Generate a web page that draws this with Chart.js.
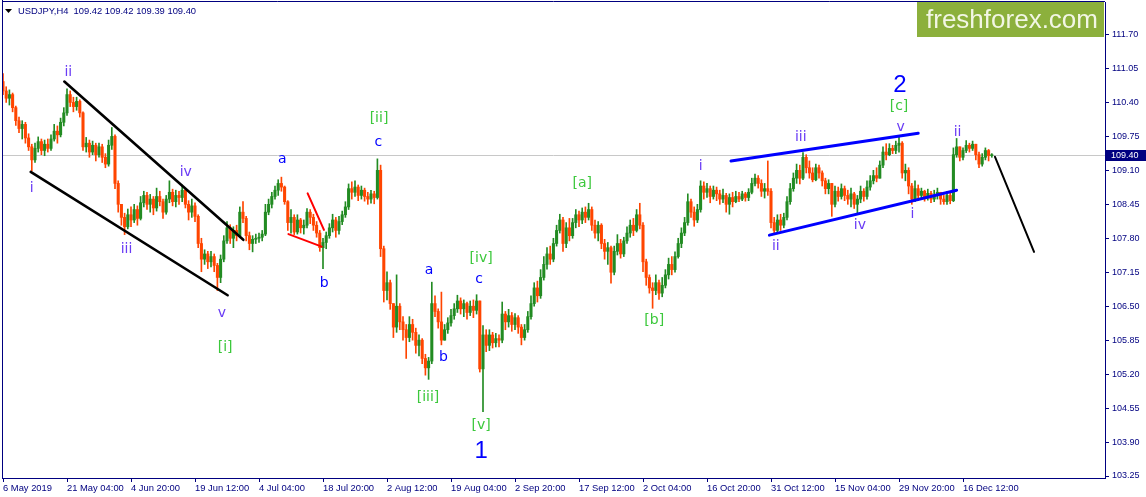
<!DOCTYPE html>
<html><head><meta charset="utf-8">
<script src="https://cdn.jsdelivr.net/npm/chart.js"></script>
<style>html,body{margin:0;padding:0;background:#fff;overflow:hidden}#wrap{position:relative;width:1146px;height:497px}</style>
</head><body><div id="wrap"><canvas id="c" width="1146" height="497"></canvas></div>
<script>
// ---------------- DATA ----------------
const symbolTitle = 'USDJPY,H4';
const lastQuote = ['109.42', '109.42', '109.39', '109.40'];
const currentPrice = 109.40;
const xTickLabels = ['6 May 2019','21 May 04:00','4 Jun 20:00','19 Jun 12:00','4 Jul 04:00','18 Jul 20:00','2 Aug 12:00','19 Aug 04:00','2 Sep 20:00','17 Sep 12:00','2 Oct 04:00','16 Oct 20:00','31 Oct 12:00','15 Nov 04:00','29 Nov 20:00','16 Dec 12:00'];
const xTickEvery = 20;
const yTicks = [111.70,111.05,110.40,109.75,109.10,108.45,107.80,107.15,106.50,105.85,105.20,104.55,103.90,103.25];
const firstOpen = 110.80;
const close = [
110.62,110.48,110.55,110.30,110.05,109.90,109.98,109.72,109.55,109.30,
109.52,109.65,109.48,109.60,109.52,109.70,109.85,109.78,110.02,110.20,
110.55,110.40,110.32,110.42,110.20,109.55,109.62,109.45,109.58,109.40,
109.55,109.35,109.22,109.58,109.75,108.85,108.45,108.20,108.02,108.25,
108.15,108.35,108.18,108.48,108.62,108.45,108.55,108.38,108.60,108.50,
108.30,108.55,108.68,108.50,108.62,108.58,108.72,108.45,108.30,108.42,
108.22,107.70,107.40,107.50,107.35,107.45,107.28,107.05,107.40,107.75,
108.00,107.80,107.95,107.85,108.30,108.18,107.85,107.70,107.78,107.80,
107.82,107.88,108.30,108.45,108.60,108.72,108.85,108.78,108.50,108.10,
108.20,107.92,108.15,108.00,108.05,108.30,108.20,108.05,107.90,107.62,
107.72,107.85,108.00,108.15,107.95,108.12,108.25,108.40,108.75,108.68,
108.78,108.62,108.72,108.60,108.55,108.65,108.58,109.10,107.60,106.80,
106.95,106.55,106.10,106.50,106.20,106.05,105.90,106.15,106.00,105.75,
105.85,105.50,105.32,105.45,106.55,106.40,106.20,105.85,106.05,106.18,
106.32,106.45,106.60,106.45,106.55,106.38,106.50,106.42,106.60,105.30,
105.95,105.75,105.95,105.80,105.88,105.85,106.35,106.20,106.32,106.15,
106.28,106.10,105.90,106.05,106.30,106.55,106.85,106.70,107.05,107.30,
107.50,107.40,107.70,107.95,108.15,107.70,108.00,107.85,108.10,108.25,
108.15,108.30,108.20,108.35,108.05,107.90,108.05,107.70,107.55,107.62,
107.15,107.55,107.70,107.50,107.75,107.90,108.05,107.95,108.25,108.05,
107.35,107.05,106.85,106.80,106.95,106.75,106.90,107.10,107.30,107.20,
107.45,107.70,107.90,108.10,108.50,108.30,108.15,108.35,108.80,108.68,
108.75,108.60,108.72,108.65,108.55,108.62,108.45,108.58,108.50,108.60,
108.55,108.65,108.58,108.68,108.85,108.95,108.85,108.70,108.75,108.70,
108.10,107.95,108.15,108.05,108.20,108.50,108.75,108.95,109.10,108.95,
109.35,109.15,109.05,108.92,109.15,109.05,108.90,108.75,108.85,108.45,
108.70,108.60,108.75,108.62,108.55,108.65,108.45,108.55,108.70,108.60,
108.78,108.90,109.00,108.95,109.20,109.45,109.40,109.52,109.48,109.58,
109.62,109.05,109.10,108.80,108.55,108.75,108.62,108.70,108.58,108.66,
108.55,108.62,108.68,108.55,108.50,108.62,108.52,109.40,109.55,109.35,
109.48,109.58,109.52,109.60,109.40,109.22,109.35,109.48,109.38,109.40];
const high = [
110.95,110.70,110.64,110.58,110.33,110.12,110.05,110.02,109.80,109.60,
109.62,109.74,109.70,109.68,109.70,109.78,109.98,109.95,110.10,110.30,
110.66,110.62,110.50,110.50,110.45,110.22,109.73,109.68,109.66,109.62,
109.62,109.60,109.42,109.68,109.92,109.78,108.90,108.45,108.28,108.36,
108.40,108.45,108.42,108.60,108.70,108.68,108.64,108.60,108.76,108.70,
108.55,108.62,108.90,108.74,108.72,108.70,108.82,108.75,108.52,108.55,
108.48,108.25,107.80,107.58,107.55,107.55,107.50,107.32,107.48,107.85,
108.12,108.06,108.02,108.05,108.40,108.50,108.22,107.92,107.85,107.88,
107.90,107.95,108.45,108.55,108.68,108.80,108.92,108.97,108.80,108.52,
108.35,108.25,108.25,108.18,108.15,108.37,108.35,108.26,108.12,107.95,
107.80,107.92,108.08,108.26,108.20,108.22,108.32,108.50,108.84,108.88,
108.90,108.82,108.80,108.76,108.68,108.72,108.70,109.32,109.20,107.65,
107.16,107.00,106.50,107.10,106.55,106.30,106.15,106.30,106.25,106.08,
105.95,105.88,105.58,105.52,106.96,106.70,106.45,106.77,106.15,106.28,
106.44,106.55,106.71,106.66,106.62,106.58,106.60,106.62,106.72,106.60,
106.13,106.05,106.05,106.00,105.98,105.95,106.58,106.40,106.44,106.38,
106.36,106.32,106.15,106.15,106.40,106.70,106.95,106.98,107.20,107.45,
107.62,107.65,107.80,108.05,108.26,108.20,108.10,108.18,108.18,108.35,
108.32,108.38,108.40,108.47,108.40,108.15,108.12,108.08,107.78,107.72,
107.65,107.65,107.87,107.78,107.82,108.02,108.15,108.18,108.35,108.47,
108.10,107.40,107.10,106.95,107.10,107.00,107.05,107.20,107.42,107.45,
107.54,107.80,108.00,108.20,108.65,108.55,108.40,108.45,108.90,108.88,
108.85,108.80,108.80,108.78,108.72,108.74,108.66,108.65,108.68,108.70,
108.68,108.70,108.68,108.75,108.95,109.03,109.00,108.92,108.85,109.28,
108.75,108.20,108.25,108.26,108.28,108.60,108.85,109.05,109.22,109.20,
109.44,109.40,109.28,109.15,109.22,109.20,109.09,108.95,108.92,108.84,
108.80,108.78,108.84,108.80,108.72,108.76,108.68,108.62,108.80,108.75,
108.90,109.00,109.10,109.15,109.28,109.55,109.61,109.61,109.58,109.66,
109.73,109.65,109.22,109.15,108.85,108.90,108.82,108.76,108.72,108.74,
108.70,108.72,108.76,108.65,108.62,108.70,108.66,109.53,109.71,109.55,
109.53,109.67,109.62,109.66,109.51,109.45,109.42,109.53,109.50,109.42];
const low = [
110.55,110.40,110.35,110.22,109.96,109.82,109.70,109.62,109.48,109.09,
109.25,109.45,109.40,109.38,109.45,109.48,109.66,109.62,109.74,109.95,
110.15,110.32,110.22,110.25,110.12,109.48,109.45,109.35,109.40,109.28,
109.35,109.25,109.15,109.18,109.50,108.75,108.30,108.05,107.87,107.98,
108.02,108.10,108.05,108.15,108.40,108.35,108.30,108.25,108.32,108.42,
108.18,108.26,108.48,108.42,108.40,108.45,108.50,108.38,108.15,108.20,
108.12,107.62,107.16,107.30,107.22,107.25,107.16,106.80,106.95,107.35,
107.70,107.70,107.62,107.75,107.82,108.10,107.75,107.58,107.54,107.70,
107.72,107.75,107.85,108.25,108.38,108.55,108.62,108.70,108.45,107.95,
107.90,107.87,107.88,107.90,107.88,108.00,108.08,107.95,107.82,107.55,
107.22,107.60,107.80,107.92,107.82,107.88,108.06,108.20,108.35,108.55,
108.60,108.52,108.55,108.51,108.45,108.47,108.46,108.55,107.45,106.58,
106.62,106.44,105.90,106.00,106.05,105.85,105.50,105.82,105.85,105.60,
105.55,105.40,105.18,105.10,105.40,106.30,106.08,105.76,105.85,105.98,
106.12,106.25,106.38,106.35,106.30,106.25,106.32,106.28,106.35,105.24,
104.48,105.63,105.65,105.70,105.72,105.72,105.80,106.05,106.10,106.02,
106.05,105.98,105.76,105.85,106.00,106.25,106.50,106.58,106.65,107.00,
107.21,107.30,107.35,107.65,107.90,107.55,107.62,107.75,107.80,108.00,
108.02,108.08,108.10,108.15,107.95,107.80,107.75,107.60,107.40,107.30,
106.94,107.10,107.48,107.42,107.45,107.70,107.82,107.85,107.92,107.98,
107.16,106.90,106.75,106.46,106.72,106.63,106.68,106.85,107.02,107.10,
107.15,107.42,107.62,107.85,108.05,108.20,108.03,108.10,108.30,108.55,
108.58,108.48,108.55,108.52,108.45,108.48,108.30,108.26,108.40,108.48,
108.50,108.52,108.51,108.52,108.65,108.80,108.76,108.60,108.57,108.62,
108.00,107.87,107.90,107.95,108.00,108.15,108.45,108.70,108.85,108.84,
108.92,109.05,108.95,108.88,108.90,108.95,108.80,108.65,108.65,108.22,
108.40,108.51,108.55,108.52,108.45,108.40,108.37,108.28,108.48,108.51,
108.55,108.72,108.84,108.88,108.95,109.15,109.30,109.38,109.42,109.42,
109.45,108.95,108.90,108.65,108.45,108.50,108.52,108.55,108.51,108.53,
108.48,108.50,108.55,108.45,108.45,108.45,108.46,108.50,109.35,109.28,
109.30,109.44,109.45,109.48,109.30,109.15,109.18,109.30,109.28,109.35];

// ---------------- ANNOTATIONS (candle index, price) ----------------
const NAVY = '#000080';
const VIOLET = '#6a3cf5', BLUE = '#0000ff', GREEN = '#3cc83c';
const trendLines = [
  {color:'#000000', width:2.6, pts:[[19.16,110.80],[75.1,107.77]]},
  {color:'#000000', width:2.6, pts:[[8.66,109.07],[70.2,106.71]]},
  {color:'#ff0000', width:2, pts:[[95.2,108.66],[100.3,107.96]]},
  {color:'#ff0000', width:2, pts:[[89.2,107.88],[99.6,107.64]]},
  {color:'#0000ff', width:3, pts:[[227.5,109.28],[286.0,109.81]]},
  {color:'#0000ff', width:3, pts:[[239.5,107.86],[298.0,108.72]]},
  {color:'#000000', width:2, pts:[[310,109.36],[322.2,107.54]]}
];
const waveLabels = [
  ['i',8.97,108.76,VIOLET,14],['ii',20.4,110.97,VIOLET,14],['iii',38.6,107.59,VIOLET,14],['iv',57.1,109.06,VIOLET,14],['v',68.4,106.37,VIOLET,14],
  ['i',218,109.17,VIOLET,14],['ii',241.5,107.64,VIOLET,14],['iii',249.3,109.73,VIOLET,14],['iv',267.8,108.04,VIOLET,14],['v',280.5,109.92,VIOLET,14],['i',284.2,108.25,VIOLET,14],['ii',298.3,109.82,VIOLET,14],
  ['[i]',69.4,105.72,GREEN,14],['[ii]',117.5,110.10,GREEN,14],['[iii]',132.8,104.76,GREEN,14],['[iv]',149.4,107.42,GREEN,14],['[v]',149.4,104.21,GREEN,14],['[a]',181,108.85,GREEN,14],['[b]',203.5,106.22,GREEN,14],['[c]',280.0,110.33,GREEN,14],
  ['a',87.3,109.31,BLUE,14],['b',100.4,106.94,BLUE,14],['c',117.3,109.63,BLUE,14],['a',133.1,107.19,BLUE,14],['b',137.6,105.53,BLUE,14],['c',148.75,107.02,BLUE,14]
];
const bigLabels = [['1',149.4,103.73],['2',280.3,110.73]];

// ---------------- CHART ----------------
const FONT = "'Liberation Sans', Arial, sans-serif";
const LFONT = "'DejaVu Sans', sans-serif";
const UP = '#228b22', DOWN = '#ff4500', FLAT = '#000000';
const opens = close.map((c,k)=> k===0 ? firstOpen : close[k-1]);
const colorOf = k => close[k] > opens[k] ? UP : (close[k] < opens[k] ? DOWN : FLAT);
const wickData = close.map((c,k)=>({x:k, y:[Math.min(low[k],opens[k],c), Math.max(high[k],opens[k],c)]}));
const bodyData = close.map((c,k)=>({x:k, y:[Math.min(opens[k],c), Math.max(opens[k],c)]}));

const overlay = {
  id:'overlay',
  beforeDraw(chart){ const c=chart.ctx; c.save(); c.fillStyle='#fff'; c.fillRect(0,0,chart.width,chart.height); c.restore(); },
  beforeDatasetsDraw(chart){
    const {ctx, chartArea:a, scales:{y}} = chart;
    const py = Math.round(y.getPixelForValue(currentPrice)) + 0.5;
    ctx.save(); ctx.strokeStyle='#c8c8c8'; ctx.lineWidth=1;
    ctx.beginPath(); ctx.moveTo(a.left, py); ctx.lineTo(a.right, py); ctx.stroke(); ctx.restore();
  },
  afterDraw(chart){
    const {ctx, chartArea:a, scales:{x,y}} = chart;
    ctx.save();
    ctx.strokeStyle = NAVY; ctx.lineWidth = 1;
    ctx.beginPath(); ctx.moveTo(a.left+0.5, 0); ctx.lineTo(a.left+0.5, a.bottom);
    ctx.moveTo(a.left, 1.5); ctx.lineTo(a.right, 1.5); ctx.stroke();
    ctx.textAlign='center'; ctx.textBaseline='middle';
    waveLabels.forEach(([t,i,p,col,size])=>{
      ctx.fillStyle=col; ctx.font=size+'px '+LFONT;
      ctx.fillText(t, x.getPixelForValue(i), y.getPixelForValue(p));
    });
    bigLabels.forEach(([t,i,p])=>{
      ctx.fillStyle=BLUE; ctx.font='24px '+FONT;
      ctx.fillText(t, x.getPixelForValue(i), y.getPixelForValue(p));
    });
    // header
    ctx.fillStyle='#000'; ctx.beginPath(); ctx.moveTo(5,9); ctx.lineTo(12,9); ctx.lineTo(8.5,13); ctx.closePath(); ctx.fill();
    ctx.fillStyle=NAVY; ctx.font='9.4px '+FONT; ctx.textAlign='left'; ctx.textBaseline='middle';
    ctx.fillText(symbolTitle+'  '+lastQuote.join(' '), 18, 11);
    // logo
    ctx.fillStyle='#8cb03c'; ctx.fillRect(917, 2, 187, 35);
    ctx.fillStyle='#f2f6e4'; ctx.font='26px '+FONT; ctx.textAlign='center'; ctx.textBaseline='alphabetic';
    ctx.fillText('freshforex.com', 1012, 28);
    // price box
    const py = Math.round(y.getPixelForValue(currentPrice));
    ctx.fillStyle=NAVY; ctx.fillRect(a.right+1, py-5, 41, 11);
    ctx.fillStyle='#fff'; ctx.font='9px '+FONT; ctx.textAlign='left'; ctx.textBaseline='middle';
    ctx.fillText(currentPrice.toFixed(2), a.right+6, py+0.5);
    ctx.restore();
  }
};

new Chart(document.getElementById('c'), {
  type:'bar',
  data:{ datasets:[
    ...trendLines.map(l=>({type:'line', data:l.pts.map(p=>({x:p[0], y:p[1]})), borderColor:l.color, borderWidth:l.width, pointRadius:0, tension:0, order:0, borderCapStyle:'round', fill:false})),
    {type:'bar', data:bodyData, backgroundColor:c=>colorOf(c.dataIndex), barThickness:2.4, grouped:false, minBarLength:1, order:1, borderWidth:0},
    {type:'bar', data:wickData, backgroundColor:c=>colorOf(c.dataIndex), barThickness:1, grouped:false, minBarLength:1, order:2, borderWidth:0}
  ]},
  options:{
    responsive:false, animation:false, events:[],
    layout:{padding:{left:2, top:2, right:0, bottom:0}},
    plugins:{legend:{display:false}, tooltip:{enabled:false}},
    scales:{
      x:{type:'linear', position:'bottom', min:-0.3125, max:344.375, bounds:'data', offset:false,
        afterBuildTicks:s=>{ s.ticks = xTickLabels.map((_,k)=>({value:k*xTickEvery})); },
        afterFit:s=>{ s.height = 19; s.paddingLeft = 0; s.paddingRight = 0; },
        grid:{display:true, drawOnChartArea:false, drawTicks:true, tickLength:4, color:NAVY, tickColor:NAVY, offset:false},
        border:{display:true, color:NAVY, width:1},
        ticks:{autoSkip:false, maxRotation:0, minRotation:0, align:'start', padding:1, color:NAVY, font:{family:FONT, size:9.4},
          callback:v=>xTickLabels[Math.round(v/xTickEvery)]}
      },
      y:{type:'linear', position:'right', min:103.212, max:112.322, bounds:'data',
        afterBuildTicks:s=>{ s.ticks = yTicks.map(v=>({value:v})); },
        afterFit:s=>{ s.width = 41; s.paddingTop = 0; s.paddingBottom = 0; },
        grid:{display:true, drawOnChartArea:false, drawTicks:true, tickLength:4, color:NAVY, tickColor:NAVY},
        border:{display:true, color:NAVY, width:1},
        ticks:{autoSkip:false, padding:3, color:NAVY, font:{family:FONT, size:9}, callback:v=>v.toFixed(2)}
      }
    }
  },
  plugins:[overlay]
});
</script></body></html>
